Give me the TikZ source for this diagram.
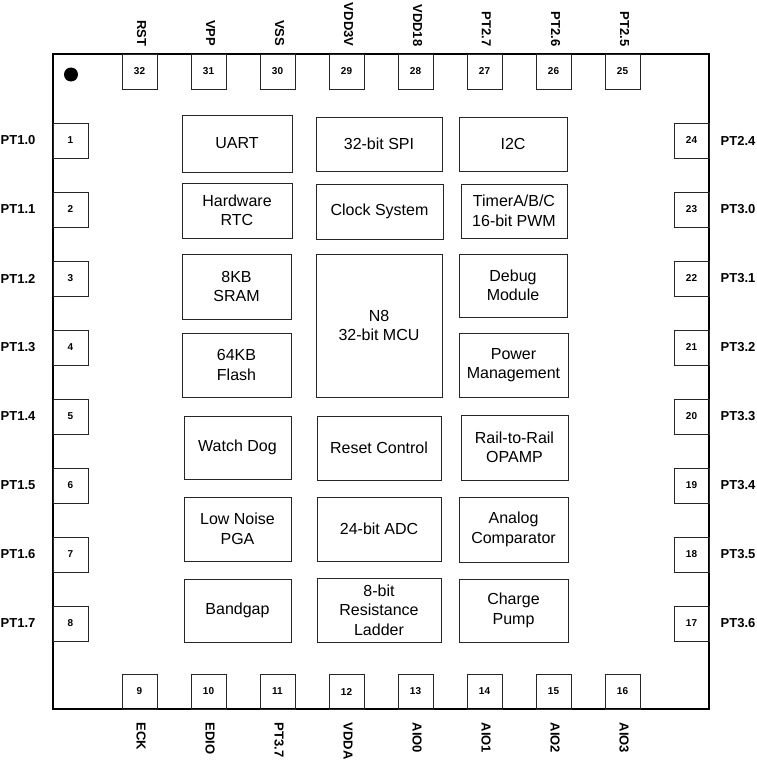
\documentclass[tikz,border=0pt]{standalone}
\usepackage{fontspec}
\setmainfont{Liberation Sans}
\newcommand\blockbox[6]{%
  \node[blk, minimum width={(#4-#2)*1pt}, minimum height={(#5-#3)*1pt}]
    (#1) at ({(#2+#4)/2},{(#3+#5)/2}) {#6};}
\begin{document}
\begin{tikzpicture}[x=1pt,y=-1pt,
  chip/.style={draw=black, line width=1.6pt},
  blk/.style={draw=black!85, line width=0.9pt, inner sep=0pt, align=center,
    font=\fontsize{16}{19.5}\selectfont},
  pinbox/.style={draw=black!85, line width=0.9pt, minimum width=35pt, minimum height=35pt,
    inner sep=0pt, font=\fontsize{10}{11}\selectfont\bfseries},
  pinlbl/.style={inner sep=0pt, font=\fontsize{13}{14}\selectfont\bfseries},
  dotmark/.style={fill=black, draw=none}]
\useasboundingbox (0,0) rectangle (757,760);

% chip outline
\node[chip, minimum width=656pt, minimum height=655pt, inner sep=0pt] (chipbody) at (381,381.5) {};
\fill[dotmark] (71,74.5) circle (7);

% left pins 1-8
\foreach \i/\t [evaluate=\i as \yy using {140.5+69*(\i-1)}] in {1/PT1.0,2/PT1.1,3/PT1.2,4/PT1.3,5/PT1.4,6/PT1.5,7/PT1.6,8/PT1.7}{
  \node[pinbox] (p\i) at (70.5,\yy) {\i};
  \node[pinlbl, anchor=west] (l\i) at (0.5,\yy) {\t};
}
% bottom pins 9-16
\foreach \i/\t [evaluate=\i as \xx using {139.5+69*(\i-9)}] in {9/ECK,10/EDIO,11/PT3.7,12/VDDA,13/AIO0,14/AIO1,15/AIO2,16/AIO3}{
  \node[pinbox] (p\i) at (\xx,691.5) {\i};
  \node[pinlbl, rotate=-90, anchor=west] (l\i) at (\xx+1.5,722.5) {\t};
}
% right pins 17-24
\foreach \i/\t [evaluate=\i as \yy using {623.5-69*(\i-17)}] in {17/PT3.6,18/PT3.5,19/PT3.4,20/PT3.3,21/PT3.2,22/PT3.1,23/PT3.0,24/PT2.4}{
  \node[pinbox] (p\i) at (691.5,\yy) {\i};
  \node[pinlbl, anchor=west] (l\i) at (720.5,\yy) {\t};
}
% top pins 25-32
\foreach \i/\t [evaluate=\i as \xx using {622.5-69*(\i-25)}] in {25/PT2.5,26/PT2.6,27/PT2.7,28/VDD18,29/VDD3V,30/VSS,31/VPP,32/RST}{
  \node[pinbox] (p\i) at (\xx,71.5) {\i};
  \node[pinlbl, rotate=-90, anchor=east] (l\i) at (\xx+2,46.5) {\t};
}

% internal blocks
\blockbox{uart}{182}{115}{292}{172}{UART}
\blockbox{spi}{316}{117}{442}{171}{32-bit SPI}
\blockbox{iic}{459}{117}{567}{171}{I2C}
\blockbox{rtc}{182}{183}{292}{238}{Hardware\\RTC}
\blockbox{clk}{316}{184}{443}{239}{Clock System}
\blockbox{tmr}{461}{184}{567}{238}{TimerA/B/C\\16-bit PWM}
\blockbox{sram}{182}{254}{291}{319}{8KB\\SRAM}
\blockbox{mcu}{316}{254}{442}{397}{N8\\32-bit MCU}
\blockbox{dbg}{459}{254}{567}{317}{Debug\\Module}
\blockbox{flash}{182}{333}{291}{397}{64KB\\Flash}
\blockbox{pwr}{459}{333}{568}{397}{Power\\Management}
\blockbox{wdt}{184}{416}{291}{479}{Watch Dog}
\blockbox{rst}{317}{416}{441}{480}{Reset Control}
\blockbox{opa}{461}{415}{568}{480}{Rail-to-Rail\\OPAMP}
\blockbox{pga}{184}{497}{291}{561}{Low Noise\\PGA}
\blockbox{adc}{317}{497}{441}{561}{24-bit ADC}
\blockbox{cmp}{459}{497}{568}{562}{Analog\\Comparator}
\blockbox{bg}{184}{579}{291}{642}{Bandgap}
\blockbox{lad}{317}{578}{441}{642}{8-bit\\Resistance\\Ladder}
\blockbox{cp}{459}{579}{568}{642}{Charge\\Pump}
\end{tikzpicture}
\end{document}
